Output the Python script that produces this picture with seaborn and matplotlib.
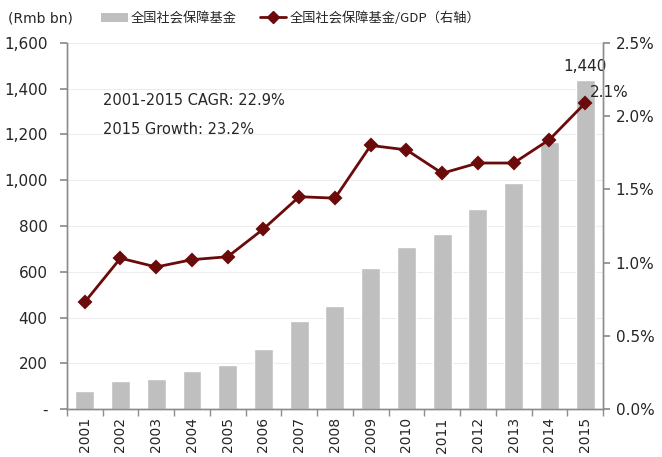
import matplotlib
matplotlib.use("Agg")
import matplotlib.pyplot as plt
import seaborn as sns
import pandas as pd
from matplotlib.ticker import FuncFormatter, FixedLocator
from matplotlib.patches import Patch
from matplotlib.lines import Line2D

# ---------------------------------------------------------------------------
# Data
# ---------------------------------------------------------------------------
years = [str(y) for y in range(2001, 2016)]
fund_rmb_bn = [79, 122, 131, 165, 192, 264, 383, 452, 615, 708, 764, 873, 987, 1168, 1440]
fund_to_gdp = [0.73, 1.03, 0.97, 1.02, 1.04, 1.23, 1.45, 1.44, 1.80, 1.77, 1.61, 1.68, 1.68, 1.84, 2.09]

bar_label = "全国社会保障基金"
line_label = "全国社会保障基金/GDP（右轴）"
notes = ["2001-2015 CAGR: 22.9%", "2015 Growth: 23.2%"]

BAR_COLOR = "#BFBFBF"
LINE_COLOR = "#6B0A0A"
AXIS_COLOR = "#8C8C8C"

sns.set_theme(style="white")
plt.rcParams["font.family"] = ["DejaVu Sans", "Noto Sans CJK SC"]

df = pd.DataFrame({"year": years, "fund": fund_rmb_bn, "ratio": fund_to_gdp})

fig = plt.figure(figsize=(6.62, 4.57), dpi=100)
ax = fig.add_axes([0.101, 0.105, 0.810, 0.801])

sns.barplot(data=df, x="year", y="fund", color=BAR_COLOR, width=0.53,
            saturation=1, ax=ax, zorder=2)
ax.set_ylim(0, 1600)
ax.set_xlim(-0.5, len(years) - 0.5)
ax.yaxis.set_major_locator(FixedLocator(range(0, 1601, 200)))
ax.yaxis.set_major_formatter(FuncFormatter(lambda v, _: "-" if v == 0 else f"{int(v):,}"))
ax.grid(axis="y", color="#EDEDED", linewidth=0.8, zorder=0)
ax.set_axisbelow(True)
ax.set_xlabel("")
ax.set_ylabel("")

# --- Line on right axis ---
ax2 = ax.twinx()
sns.pointplot(data=df, x="year", y="ratio", color=LINE_COLOR, markers="D",
              markersize=6, linewidth=2, ax=ax2, zorder=3)
ax2.set_ylim(0, 2.5)
ax2.set_xlim(-0.5, len(years) - 0.5)
ax2.yaxis.set_major_locator(FixedLocator([0, 0.5, 1.0, 1.5, 2.0, 2.5]))
ax2.yaxis.set_major_formatter(FuncFormatter(lambda v, _: f"{v:.1f}%"))
ax2.set_ylabel("")
ax2.set_xlabel("")

# --- Axes styling ---
for a in (ax, ax2):
    a.spines["top"].set_visible(False)
    for s in ("left", "right", "bottom"):
        a.spines[s].set_color(AXIS_COLOR)
        a.spines[s].set_linewidth(1.0)
ax.tick_params(axis="y", which="major", direction="out", length=5, color=AXIS_COLOR,
               labelsize=11, pad=9, left=True)
ax2.tick_params(axis="y", which="major", direction="out", length=5, color=AXIS_COLOR,
                labelsize=11, pad=4, right=True)
ax.set_xticks(range(len(years)))
ax.set_xticklabels(years, rotation=90, fontsize=10)
ax.tick_params(axis="x", which="major", length=0, pad=6)
ax.set_xticks([i - 0.5 for i in range(len(years) + 1)], minor=True)
ax.tick_params(axis="x", which="minor", direction="out", length=5, color=AXIS_COLOR, bottom=True)

# --- Annotations ---
ax.text(len(years) - 1, fund_rmb_bn[-1] + 25, f"{fund_rmb_bn[-1]:,}",
        ha="center", va="bottom", fontsize=11)
ax2.text(len(years) - 1 + 0.12, 2.16, f"{fund_to_gdp[-1]:.1f}%",
         ha="left", va="center", fontsize=11)
ax.text(0.5, 1350, notes[0], fontsize=10.5, va="center")
ax.text(0.5, 1220, notes[1], fontsize=10.5, va="center")

fig.text(0.012, 0.96, "(Rmb bn)", fontsize=10, va="center")
handles = [Patch(facecolor=BAR_COLOR, edgecolor="none"),
           Line2D([0], [0], color=LINE_COLOR, linewidth=2, marker="D", markersize=6)]
fig.legend(handles, [bar_label, line_label], loc="center left",
           bbox_to_anchor=(0.145, 0.96), ncol=2, frameon=False,
           handlelength=2.0, columnspacing=1.75, handletextpad=0.25, borderaxespad=0,
           prop={"family": ["Noto Sans CJK SC", "DejaVu Sans"], "size": 9.5})

fig.savefig("out.png", dpi=100)
